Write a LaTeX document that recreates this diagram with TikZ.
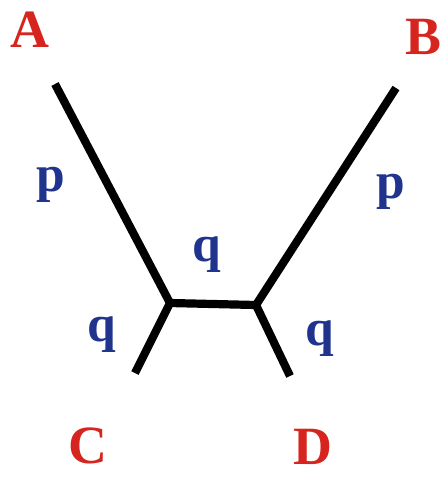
\documentclass[tikz,border=0pt]{standalone}
\usepackage{fontspec}
\setmainfont{Liberation Serif}
\usetikzlibrary{positioning}
\definecolor{taxred}{RGB}{214,36,30}
\definecolor{branchblue}{RGB}{32,52,142}

\begin{document}
\begin{tikzpicture}[x=0.03cm, y=-0.03cm,
    taxon/.style={text=taxred, font=\bfseries\fontsize{46}{48}\selectfont, inner sep=0pt},
    blen/.style={text=branchblue, font=\bfseries\fontsize{44}{46}\selectfont, inner sep=0pt},
    branch/.style={line width=7pt, line cap=butt, line join=round}]
  \useasboundingbox (0,0) rectangle (443,477);
  % tree
  \coordinate (a) at (55,84);
  \coordinate (b) at (396,88);
  \coordinate (c) at (135,373);
  \coordinate (d) at (290,376);
  \coordinate (u) at (170,303);
  \coordinate (v) at (256,305);
  \draw[branch] (a) -- (u) -- (c);
  \draw[branch] (b) -- (v) -- (d);
  \draw[branch] (u) -- (v);
  % taxa
  \node[taxon] (A) at (30,30) {A};
  \node[taxon] (B) at (423,37) {B};
  \node[taxon] (C) at (88,446) {C};
  \node[taxon] (D) at (313,447) {D};
  % branch lengths
  \node[blen] (pa) at (51,185) {p};
  \node[blen] (pb) at (391,192) {p};
  \node[blen] (quv) at (207,255) {q};
  \node[blen] (qc) at (102,335) {q};
  \node[blen] (qd) at (320,339) {q};
\end{tikzpicture}
\end{document}
